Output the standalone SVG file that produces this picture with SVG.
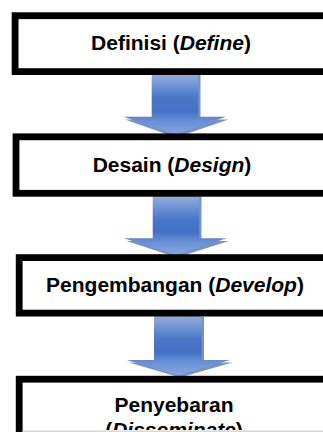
<svg xmlns="http://www.w3.org/2000/svg" width="323" height="432" viewBox="0 0 323 432">
<style>
.box{fill:#ffffff;stroke:#000000;stroke-width:6.8}
.lbl{font-family:"Liberation Sans",Arial,sans-serif;font-weight:bold;font-size:21px;fill:#000000;text-anchor:middle}
.it{font-style:italic}
.arr{fill:url(#blueGrad)}
.shd{fill:#2c4c86;opacity:0.6;filter:url(#blur)}
</style>
<defs>
<linearGradient id="blueGrad" x1="0" y1="0" x2="0" y2="1">
<stop offset="0" stop-color="#97b1e1"/>
<stop offset="0.4" stop-color="#4a77c8"/>
<stop offset="0.62" stop-color="#4471c4"/>
<stop offset="0.78" stop-color="#6890d5"/>
<stop offset="1" stop-color="#88a6de"/>
</linearGradient>
<filter id="blur" x="-20%" y="-20%" width="140%" height="140%">
<feGaussianBlur stdDeviation="0.6"/>
</filter>
<clipPath id="bottomClip"><rect x="0" y="0" width="323" height="430"/></clipPath>
</defs>
<g id="connectors">
<g id="arrow1">
<path class="shd" d="M154,75 H200.5 V119.5 H228.5 L176,137.5 L125,119.5 H154 Z"/>
<path class="arr" d="M151.7,73 H198.3 V116.7 H226 L175,134.5 L123.5,116.7 H151.7 Z"/>
</g>
<g id="arrow2">
<path class="shd" d="M155,197 H201.5 V241 H229 L177,257.5 L126.5,241 H155 Z"/>
<path class="arr" d="M152.7,195 H199.3 V238.3 H226.7 L176,255 L124,238.3 H152.7 Z"/>
</g>
<g id="arrow3">
<path class="shd" d="M156.5,317 H204 V362.5 H232.5 L180,377.5 L129,362.5 H156.5 Z"/>
<path class="arr" d="M154,315 H201.7 V360 H230 L178,375.5 L126.7,360 H154 Z"/>
</g>
</g>
<g id="node1">
<rect class="box" x="15.1" y="15.7" width="330" height="55.9"/>
<text class="lbl" x="171" y="50">Definisi (<tspan class="it">Define</tspan>)</text>
</g>
<g id="node2">
<rect class="box" x="16" y="136.8" width="330" height="56.5"/>
<text class="lbl" x="172" y="171.7">Desain (<tspan class="it">Design</tspan>)</text>
</g>
<g id="node3">
<rect class="box" x="19.2" y="257.6" width="330" height="55.5"/>
<text class="lbl" x="175" y="291.7">Pengembangan (<tspan class="it">Develop</tspan>)</text>
</g>
<g id="node4">
<rect class="box" x="19.2" y="379.2" width="330" height="80"/>
<g clip-path="url(#bottomClip)">
<text class="lbl" x="174" y="411.7">Penyebaran</text>
<text class="lbl" x="174" y="437">(<tspan class="it">Disseminate</tspan>)</text>
</g>
<rect x="22.6" y="430.4" width="301" height="1.6" fill="#d9d9d9"/>
</g>
</svg>
